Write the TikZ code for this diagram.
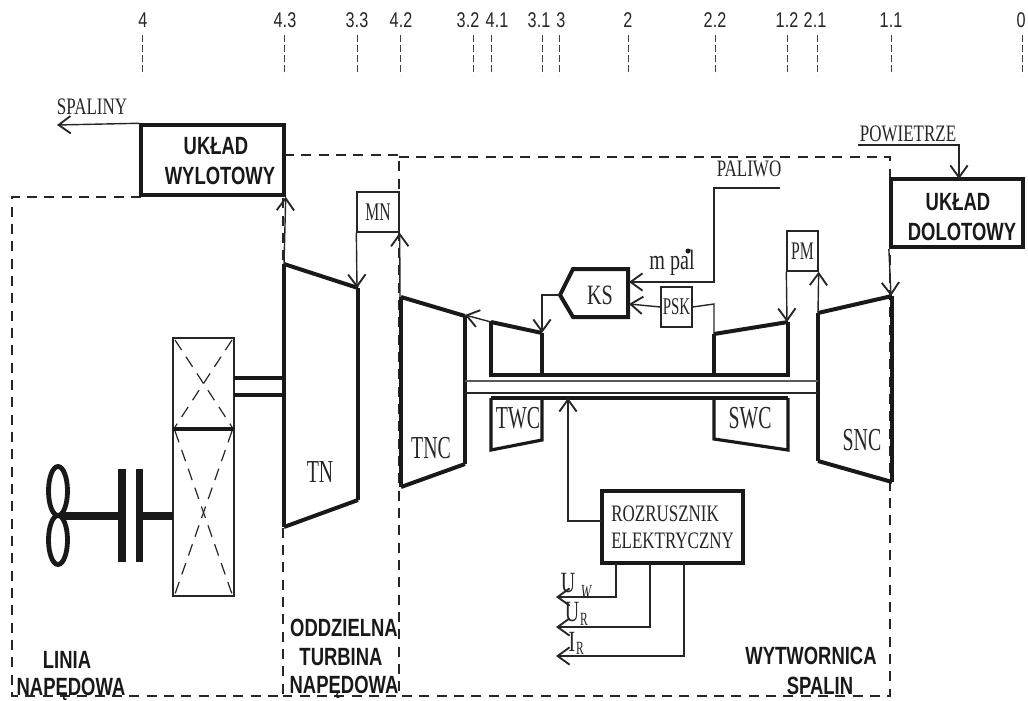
\documentclass[tikz,border=0pt]{standalone}
\usepackage{fontspec}
\usetikzlibrary{arrows.meta}
\setmainfont{Liberation Serif}
\newfontfamily\serA[FakeStretch=0.72]{Liberation Serif}
\newfontfamily\serB[FakeStretch=0.62]{Liberation Serif}
\newfontfamily\serC[FakeStretch=0.68]{Liberation Serif}
\newfontfamily\heavy[FakeStretch=0.74]{Liberation Sans Bold}
\newfontfamily\topf[FakeStretch=0.76]{Liberation Sans}
\tikzset{
  conn/.style={line width=1.05pt,black!85},
  arr/.style={conn,-{Straight Barb[length=9pt,width=13pt,line width=1.4pt]}},
  zone/.style={line width=1.1pt,black!85,dash pattern=on 7.5pt off 5.5pt},
  ticked/.style={line width=.6pt,black!75,dash pattern=on 5pt off 2.5pt},
  hvy/.style={line width=3pt,black!90,line join=miter},
  med/.style={line width=2.4pt,black!90,line join=miter},
  bigbox/.style={draw,black!90,fill=white,inner sep=0pt,line width=2.6pt},
  sbox/.style={draw,black!85,inner sep=0pt,line width=1pt,font=\serB\fontsize{19}{19}\selectfont},
  captxt/.style={inner sep=0pt,black!90,font=\heavy\fontsize{18.7}{22}\selectfont,align=center},
  lab/.style={inner sep=0pt,black!85,font=\serA\fontsize{17.7}{20}\selectfont,align=left},
  comp/.style={inner sep=0pt,black!85,font=\serB\fontsize{24}{24}\selectfont},
  toplab/.style={inner sep=0pt,black!85,font=\topf\fontsize{16}{16}\selectfont},
  subtxt/.style={inner sep=0pt,black!85,font=\serB\fontsize{14}{14}\selectfont},
  bigtxt/.style={inner sep=0pt,black!85,font=\serC\fontsize{22}{22}\selectfont},
  dashx/.style={line width=.9pt,black!85,dash pattern=on 9pt off 6pt},
  plate/.style={line width=5.4pt,black!90},
}
\begin{document}
\begin{tikzpicture}[x=0.75pt,y=-0.75pt]
\useasboundingbox (0,0) rectangle (1028,700);
% top station labels and ticks
\foreach \nm/\t/\lx/\tx in {a/4/143/142,b/4.3/285/284,c/3.3/357/357,d/4.2/401/400,e/3.2/468/473,f/4.1/497/491,g/3.1/539/542,h/3/561/559,i/2/628/628,j/2.2/715/715,k/1.2/787/787,l/2.1/815/817,m/1.1/891/891,n/0/1021/1022}{
  \node[toplab] (t\nm) at (\lx,20) {\t};
  \coordinate (ta\nm) at (\tx,35);
  \coordinate (tb\nm) at (\tx,75);
  \draw[ticked] (ta\nm) -- (tb\nm);
}
% zones
\coordinate (z1) at (141,197); \coordinate (z2) at (12,197); \coordinate (z3) at (12,696); \coordinate (z4) at (283,696); \coordinate (z5) at (283,197);
\draw[zone] (z1) -- (z2) -- (z3) -- (z4) -- (z5);
\coordinate (y1) at (284,155); \coordinate (y2) at (399,155); \coordinate (y3) at (399,696); \coordinate (y4) at (283,696);
\draw[zone] (y1) -- (y2) -- (y3) -- (y4);
\coordinate (w1) at (399,157); \coordinate (w2) at (890,157); \coordinate (w3) at (890,696); \coordinate (w4) at (399,696);
\draw[zone] (w1) -- (w2) -- (w3) -- (w4);
% boxes
\node[bigbox,minimum width=107.25pt,minimum height=52.5pt] (wyl) at (212.5,160) {};
\node[captxt] (wyltxt) at (220,161) {\hspace*{-6pt}UKŁAD\\WYLOTOWY};
\node[bigbox,line width=3.2pt,minimum width=99pt,minimum height=51pt] (dol) at (957,213) {};
\node[captxt] (doltxt) at (962,217) {\hspace*{-6pt}UKŁAD\\DOLOTOWY};
\node[bigbox,line width=3.2pt,minimum width=105.75pt,minimum height=54pt] (roz) at (672.5,527) {};
\node[lab,anchor=west] (roztxt) at (611,527.5) {ROZRUSZNIK\\ELEKTRYCZNY};
\node[sbox,minimum width=31.5pt,minimum height=30pt] (mn) at (378,212) {MN};
\node[sbox,minimum width=23.25pt,minimum height=30pt] (pm) at (802.5,251) {PM};
\node[sbox,minimum width=23.25pt,minimum height=30pt,font=\serB\fontsize{18}{18}\selectfont] (psk) at (676.5,307) {PSK};
% machine shapes
\draw[hvy] (284,264) -- (358,288);
\draw[med] (358,288) -- (358,500);
\draw[hvy] (358,500) -- (284,527);
\draw[med] (284,527) -- (284,264);
\draw[med] (401,487) -- (401,297);
\draw[hvy] (401,297) -- (465,316);
\draw[med] (465,316) -- (465,464);
\draw[hvy] (465,464) -- (401,487);
\draw[hvy] (491,322) -- (542,333);
\draw[med] (491,322) -- (491,375) -- (788,375) -- (788,322);
\draw[med] (542,333) -- (542,375);
\draw[med] (714,334) -- (714,375);
\draw[hvy] (714,334) -- (788,322);
\draw[med] (491,398) -- (788,398);
\draw[med] (491,398) -- (491,450) -- (542,440) -- (542,398);
\draw[med] (714,398) -- (714,439) -- (788,450) -- (788,398);
\draw[med] (818,461) -- (818,313);
\draw[hvy] (818,313) -- (892,296);
\draw[med] (892,296) -- (892,482);
\draw[hvy] (892,482) -- (818,461);
\draw[line width=.8pt,black!65] (465,381) -- (818,381);
\draw[line width=.8pt,black!85] (465,393) -- (818,393);
% KS
\draw[hvy] (560,295) -- (573,269) -- (628,269) -- (628,317) -- (573,317) -- cycle;
\coordinate (kstip) at (560,295);
\coordinate (kfuel) at (629,282);
\coordinate (kpsk) at (629,304);
\node[comp,font=\serA\fontsize{21}{22}\selectfont] (ks) at (600,295) {KS};
% component labels
\node[comp] (tn) at (320,472) {TN};
\node[comp] (tnc) at (431,448) {TNC};
\node[comp] (twc) at (518,418) {TWC};
\node[comp] (swc) at (750,418) {SWC};
\node[comp] (snc) at (862,440) {SNC};
% connectors
\coordinate (twcin) at (542,333); \coordinate (tncin) at (465,315); \coordinate (twcup) at (491,322);
\coordinate (swcout) at (714,334); \coordinate (swcin) at (787,322); \coordinate (sncin) at (818,313);
\coordinate (sncout) at (891,296); \coordinate (tnin) at (357,288); \coordinate (tncup) at (400,297);
\coordinate (tntop) at (284,264); \coordinate (shaftin) at (568,398);
\draw[arr] (kstip) -- (542,295) -- (twcin);
\draw[arr] (twcup) -- (tncin);
\draw[conn] (swcout) -- (714,304) -- (psk.east);
\draw[arr] (psk.west) -- (kpsk);
\coordinate (pal) at (780,188);
\draw[arr] (pal) -- (714,188) -- (714,282) -- (kfuel);
\draw[arr] (pm.south west) -- (swcin);
\draw[arr] (sncin) -- (pm.south east);
\draw[arr] (mn.south west) -- (tnin);
\draw[arr] (tncup) -- (mn.south east);
\draw[arr] (tntop) -- (wyl.south east);
\draw[arr] (dol.south west) -- (sncout);
\coordinate (powst) at (858,145);
\draw[arr] (powst) -- (959,145) -- (959,179);
\draw[arr] (wyl.north west) -- (57,125);
\draw[arr] (602,521) -- (568,521) -- (shaftin);
\coordinate (uw) at (556,597); \coordinate (ur) at (556,627); \coordinate (ir) at (556,656);
\draw[arr] (616,563) -- (616,597) -- (uw);
\draw[arr] (650,563) -- (650,627) -- (ur);
\draw[arr] (684,563) -- (684,656) -- (ir);
% texts
\node[lab] (spal) at (92,107) {SPALINY};
\node[lab] (pow) at (908,134) {POWIETRZE};
\node[lab] (pali) at (749,169) {PALIWO};
\node[lab,font=\serA\fontsize{21}{22}\selectfont] (mpal) at (672,263) {m pal};
\fill[black!90] (688,251) circle (2.5);
\node[bigtxt] (u1) at (568,583) {U};
\node[subtxt,font=\serB\itshape\fontsize{15}{15}\selectfont] (u1s) at (586,592) {W};
\node[bigtxt] (u2) at (572,612) {U};
\node[subtxt] (u2s) at (584,619) {R};
\node[bigtxt] (u3) at (572,642) {I};
\node[subtxt] (u3s) at (580,648) {R};
\node[captxt] (l1) at (67,660) {LINIA};
\node[captxt] (l2) at (71,689) {NAPĘDOWA};
\node[captxt] (o1) at (344,628) {ODDZIELNA};
\node[captxt] (o2) at (341,657) {TURBINA};
\node[captxt] (o3) at (344,687) {NAPĘDOWA};
\node[captxt] (w5) at (811,656) {WYTWORNICA};
\node[captxt] (w6) at (820,686) {SPALIN};
% gearbox
\draw[line width=1.8pt,black!85] (173,338) rectangle (234,429);
\draw[line width=1.8pt,black!85] (173,429) rectangle (234,596);
\draw[hvy] (173,429) -- (234,429);
\draw[dashx] (175,340) -- (232,427);
\draw[dashx] (232,340) -- (175,427);
\draw[dashx] (175,431) -- (232,594);
\draw[dashx] (232,431) -- (175,594);
\draw[hvy] (234,378) -- (283,378);
\draw[hvy] (234,395) -- (283,395);
% propeller and clutch
\draw[line width=3.6pt,black!90] (58,491) ellipse (9.5 and 24.5);
\draw[line width=3.6pt,black!90] (58,540) ellipse (9.5 and 24.5);
\draw[line width=6pt,black!90] (62,516) -- (120,516);
\draw[plate] (122,469) -- (122,562);
\draw[plate] (139.5,469) -- (139.5,562);
\draw[line width=6pt,black!90] (140,516) -- (173,516);
\end{tikzpicture}
\end{document}
